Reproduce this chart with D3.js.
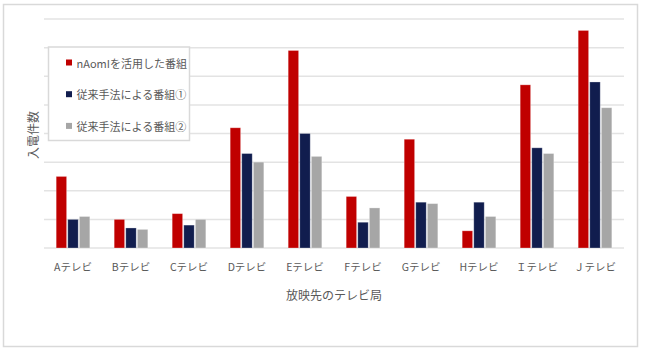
<!DOCTYPE html>
<html>
<head>
<meta charset="utf-8">
<script src="https://cdn.jsdelivr.net/npm/d3@7"></script>
<style>
  body { margin: 0; background: #fff; }
  text { font-family: "Noto Sans CJK JP", "Noto Sans", sans-serif; fill: #595959; }
</style>
</head>
<body>
<script>
// categories and series (values in gridline units)
var stations = ["Aテレビ", "Bテレビ", "Cテレビ", "Dテレビ", "Eテレビ", "Fテレビ", "Gテレビ", "Hテレビ", "Ｉテレビ", "Ｊテレビ"]
var seriesNames = ["nAomIを活用した番組", "従来手法による番組①", "従来手法による番組②"]
var naomi = [2.5, 1.0, 1.2, 4.2, 6.9, 1.8, 3.8, 0.6, 5.7, 7.6]
var trad1 = [1.0, 0.7, 0.8, 3.3, 4.0, 0.9, 1.6, 1.6, 3.5, 5.8]
var trad2 = [1.1, 0.65, 1.0, 3.0, 3.2, 1.4, 1.55, 1.1, 3.3, 4.9]
var yTicks = [0, 1, 2, 3, 4, 5, 6, 7, 8]
var colors = ["#c00000", "#111d4e", "#a6a6a6"]

var width = 647
var height = 356
var plotLeft = 44, plotRight = 624, plotTop = 19, plotBottom = 248

var svg = d3.select("body")
            .append("svg")
            .attr("width", width)
            .attr("height", height)

// outer frame
svg.append("rect")
   .attr("x", 3.5).attr("y", 4.5)
   .attr("width", 634).attr("height", 342)
   .attr("fill", "#fff")
   .attr("stroke", "#d9d9d9")
   .attr("stroke-width", 1.5)

var yScale = d3.scaleLinear()
               .domain([0, 8])
               .range([plotBottom, plotTop])

var x0 = d3.scaleBand()
           .domain(stations)
           .range([plotLeft, plotRight])
           .paddingInner(0.38)
           .paddingOuter(0.19)

var x1 = d3.scaleBand()
           .domain(d3.range(seriesNames.length))
           .range([0, x0.bandwidth()])
           .padding(0.1)

//gridlines
svg.append("g")
   .selectAll("line")
   .data(yTicks)
   .enter()
   .append("line")
   .attr("x1", plotLeft)
   .attr("x2", plotRight)
   .attr("y1", function(d) { return yScale(d) })
   .attr("y2", function(d) { return yScale(d) })
   .attr("stroke", "#e3e3e3")
   .attr("stroke-width", 1.5)

var table = stations.map(function(s, i) {
  return { station: s, values: [naomi[i], trad1[i], trad2[i]] }
})

//bars
var groups = svg.selectAll(".grp")
   .data(table)
   .enter()
   .append("g")
   .attr("class", "grp")
   .attr("transform", function(d) { return "translate(" + x0(d.station) + ",0)" })

groups.selectAll("rect")
   .data(function(d) { return d.values })
   .enter()
   .append("rect")
   .attr("x", function(d, i) { return x1(i) })
   .attr("y", function(d) { return yScale(d) })
   .attr("width", x1.bandwidth())
   .attr("height", function(d) { return yScale(0) - yScale(d) })
   .attr("fill", function(d, i) { return colors[i] })
   .attr("stroke", "#fff")
   .attr("stroke-opacity", 0.35)
   .attr("stroke-width", 0.8)

// x axis labels
var xAxis = d3.axisBottom(x0).tickSize(0).tickPadding(0)
var gx = svg.append("g")
   .attr("transform", "translate(0," + 264 + ")")
   .call(xAxis)
gx.select(".domain").remove()
gx.selectAll("text")
   .attr("font-size", 10.5)
   .attr("font-family", "Noto Sans CJK JP")
   .attr("fill", "#595959")
   .attr("dy", "0.71em")

// axis titles
svg.append("text")
   .attr("x", (plotLeft + plotRight) / 2)
   .attr("y", 294)
   .attr("text-anchor", "middle")
   .attr("dominant-baseline", "central")
   .attr("font-size", 12)
   .text("放映先のテレビ局")

svg.append("text")
   .attr("transform", "translate(32,135) rotate(-90)")
   .attr("text-anchor", "middle")
   .attr("dominant-baseline", "central")
   .attr("font-size", 12)
   .text("入電件数")

// legend
var legend = svg.append("g")
legend.append("rect")
   .attr("x", 48.5).attr("y", 47)
   .attr("width", 141).attr("height", 93.5)
   .attr("fill", "#fff")
   .attr("stroke", "#d9d9d9")
   .attr("stroke-width", 1.5)

var items = legend.selectAll(".item")
   .data(seriesNames)
   .enter()
   .append("g")
   .attr("class", "item")
   .attr("transform", function(d, i) { return "translate(66," + (62.5 + i * 31.7) + ")" })

items.append("rect")
   .attr("x", 0).attr("y", -3)
   .attr("width", 6).attr("height", 6)
   .attr("fill", function(d, i) { return colors[i] })

items.append("text")
   .attr("x", 10.5)
   .attr("y", 0)
   .attr("dominant-baseline", "central")
   .attr("font-size", 11)
   .text(function(d) { return d })
</script>
</body>
</html>
